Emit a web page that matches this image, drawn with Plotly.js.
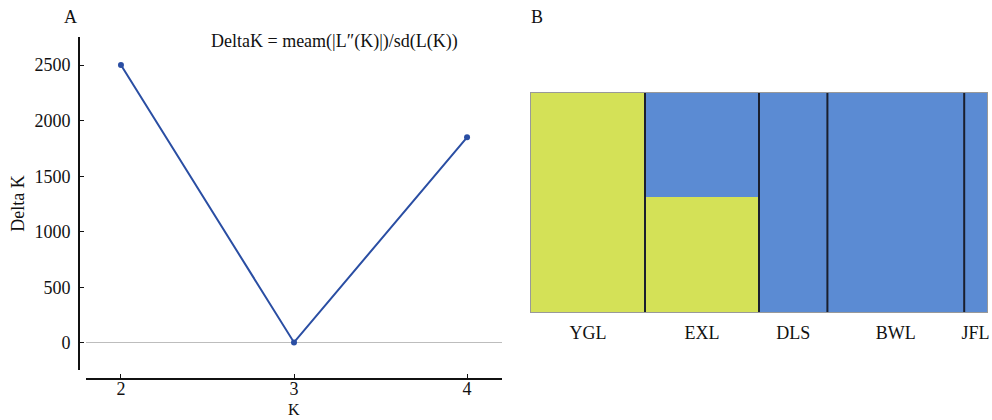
<!DOCTYPE html>
<html>
<head>
<meta charset="utf-8">
<script src="https://cdn.plot.ly/plotly-3.0.1.min.js"></script>
<style>
  html, body { margin: 0; padding: 0; background: #fff; }
  #chart { width: 992px; height: 420px; }
</style>
</head>
<body>
<div id="chart"></div>
<script>
// Panel A: Delta K by K
const kValues = [2, 3, 4];
const deltaK = [2500, 5, 1850];

// Panel B: population structure (K = 2)
const populations = ['YGL', 'EXL', 'DLS', 'BWL', 'JFL'];
const groupSizes = [5, 5, 3, 6, 1];
const cluster1 = [1.0, 0.527, 0.0, 0.0, 0.0];   // yellow-green
const cluster2 = [0.0, 0.473, 1.0, 1.0, 1.0];   // blue

const W = 992, H = 420;
const px = v => v / W;
const py = v => 1 - v / H;

const FONT = 'Liberation Serif, Times New Roman, serif';
const YELLOW = '#d4e157';
const BLUE = '#5b8bd3';
const LINE = '#2a4ea3';

// cumulative positions for panel B
const starts = [];
let acc = 0;
groupSizes.forEach(s => { starts.push(acc); acc += s; });
const centers = starts.map((s, i) => s + groupSizes[i] / 2);
const total = acc;

const traces = [
  {
    type: 'scatter', mode: 'lines+markers',
    x: kValues, y: deltaK,
    xaxis: 'x', yaxis: 'y',
    line: { color: LINE, width: 2 },
    marker: { color: LINE, size: 6 },
    cliponaxis: false,
    showlegend: false, hoverinfo: 'x+y'
  },
  {
    type: 'bar', x: centers, y: cluster1, width: groupSizes,
    xaxis: 'x2', yaxis: 'y2',
    marker: { color: YELLOW, line: { width: 0 } },
    showlegend: false
  },
  {
    type: 'bar', x: centers, y: cluster2, width: groupSizes,
    xaxis: 'x2', yaxis: 'y2',
    marker: { color: BLUE, line: { width: 0 } },
    showlegend: false
  }
];

// separators between populations
const shapes = starts.slice(1).map(s => ({
  type: 'line', xref: 'x2', yref: 'y2',
  x0: s, x1: s, y0: 0, y1: 1,
  line: { color: '#1a1f2e', width: 2 }
}));

const layout = {
  width: W, height: H,
  margin: { l: 0, r: 0, t: 0, b: 0 },
  paper_bgcolor: '#fff', plot_bgcolor: 'rgba(0,0,0,0)',
  font: { family: FONT, size: 18, color: '#111' },
  barmode: 'stack', bargap: 0,
  showlegend: false,
  xaxis: {
    domain: [px(86), px(502)],
    anchor: 'free', position: py(379),
    range: [1.798, 4.202],
    tickvals: kValues, ticktext: kValues.map(String),
    ticks: 'inside', ticklen: 4, tickcolor: '#111', tickwidth: 1,
    showline: true, linecolor: '#111', linewidth: 2,
    showgrid: false, zeroline: false,
    ticklabelstandoff: -7,
    tickfont: { family: FONT, size: 18, color: '#111' }
  },
  yaxis: {
    domain: [py(370), py(37)],
    anchor: 'free', position: px(79),
    range: [-243, 2752],
    tickvals: [0, 500, 1000, 1500, 2000, 2500],
    ticks: 'inside', ticklen: 4, tickcolor: '#111', tickwidth: 1,
    showline: true, linecolor: '#111', linewidth: 2,
    showgrid: false,
    zeroline: true, zerolinecolor: '#bdbdbd', zerolinewidth: 1,
    ticklabelstandoff: 4,
    tickfont: { family: FONT, size: 18, color: '#111' },
    title: { text: 'Delta K', font: { family: FONT, size: 18, color: '#111' }, standoff: 4 }
  },
  xaxis2: {
    domain: [px(531), px(987)],
    anchor: 'y2',
    range: [0, total],
    tickvals: centers, ticktext: populations,
    ticks: '', showgrid: false, zeroline: false,
    showline: true, mirror: true, linecolor: '#999', linewidth: 1,
    ticklabelstandoff: 4,
    tickfont: { family: FONT, size: 18, color: '#111' },
    fixedrange: true
  },
  yaxis2: {
    domain: [py(312), py(93)],
    anchor: 'x2',
    range: [0, 1],
    showticklabels: false, ticks: '', showgrid: false, zeroline: false,
    showline: true, mirror: true, linecolor: '#999', linewidth: 1,
    fixedrange: true
  },
  shapes: shapes,
  annotations: [
    { text: 'A', xref: 'paper', yref: 'paper', x: px(70), y: py(17),
      xanchor: 'center', yanchor: 'middle', showarrow: false,
      font: { family: FONT, size: 18, color: '#111' } },
    { text: 'B', xref: 'paper', yref: 'paper', x: px(537), y: py(17),
      xanchor: 'center', yanchor: 'middle', showarrow: false,
      font: { family: FONT, size: 18, color: '#111' } },
    { text: 'DeltaK = meam(|L″(K)|)/sd(L(K))', xref: 'paper', yref: 'paper',
      x: px(334), y: py(42), xanchor: 'center', yanchor: 'middle', showarrow: false,
      font: { family: FONT, size: 18, color: '#111' } },
    { text: 'K', xref: 'paper', yref: 'paper', x: px(294), y: 0,
      xanchor: 'center', yanchor: 'bottom', yshift: 0, showarrow: false,
      font: { family: FONT, size: 16, color: '#111' } }
  ]
};

Plotly.newPlot('chart', traces, layout, { displayModeBar: false, staticPlot: true });
</script>
</body>
</html>
